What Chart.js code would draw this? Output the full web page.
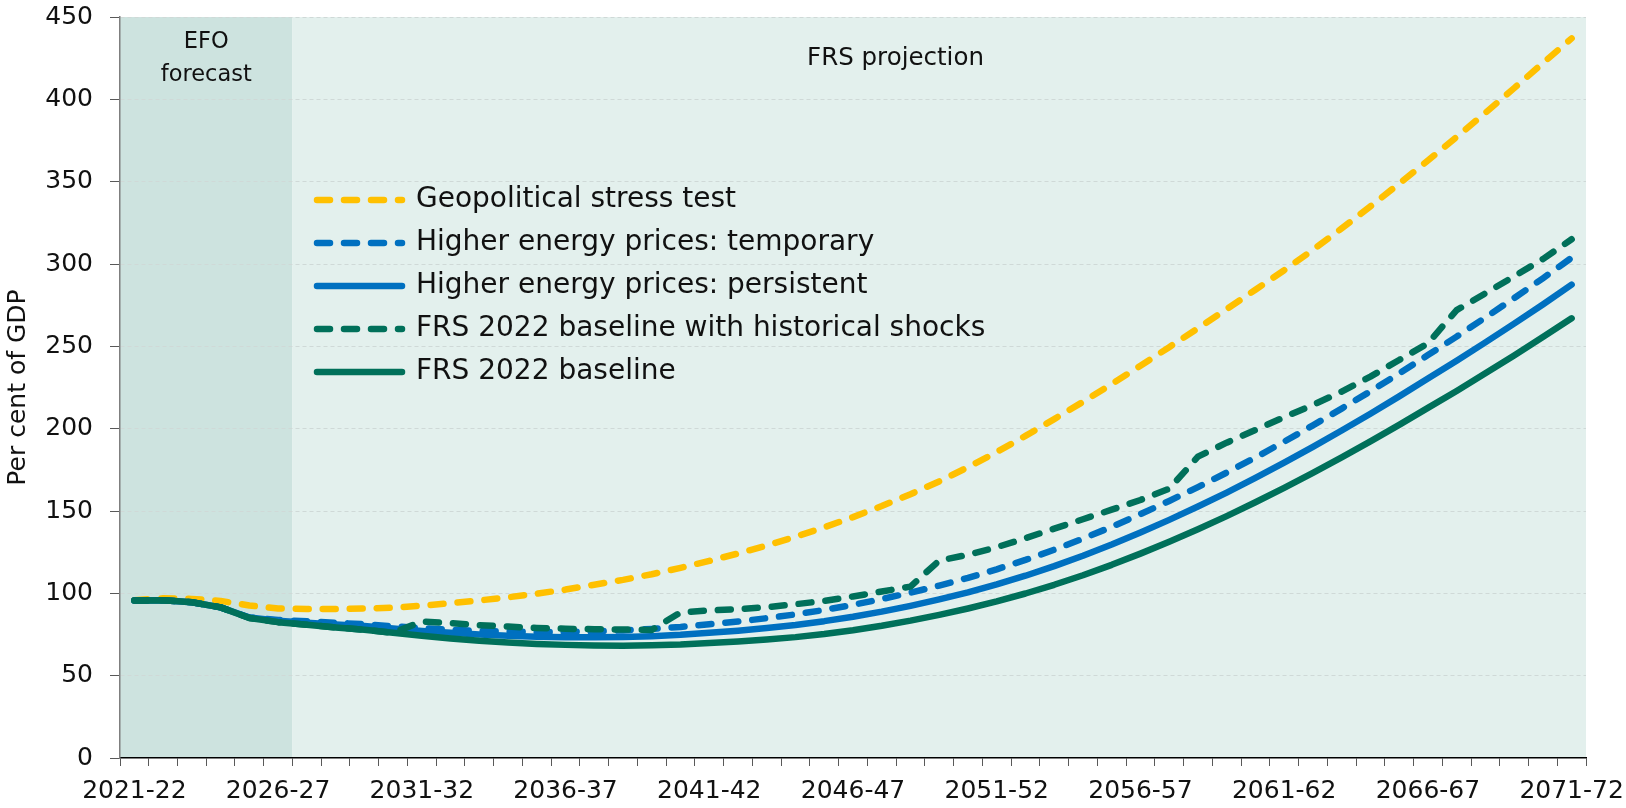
<!DOCTYPE html>
<html>
<head>
<meta charset="utf-8">
<script src="https://cdn.jsdelivr.net/npm/chart.js@4.4.1/dist/chart.umd.min.js"></script>
<style>
html,body{margin:0;padding:0;background:#ffffff;}
canvas{display:block;}
</style>
</head>
<body>
<canvas id="c" width="1626" height="808"></canvas>
<script>
// ---------------- data ----------------
const years = [
  '2021-22','2022-23','2023-24','2024-25','2025-26','2026-27','2027-28','2028-29','2029-30','2030-31',
  '2031-32','2032-33','2033-34','2034-35','2035-36','2036-37','2037-38','2038-39','2039-40','2040-41',
  '2041-42','2042-43','2043-44','2044-45','2045-46','2046-47','2047-48','2048-49','2049-50','2050-51',
  '2051-52','2052-53','2053-54','2054-55','2055-56','2056-57','2057-58','2058-59','2059-60','2060-61',
  '2061-62','2062-63','2063-64','2064-65','2065-66','2066-67','2067-68','2068-69','2069-70','2070-71',
  '2071-72'
];

const geopolitical = [
  95.8, 97.0, 96.6, 95.4, 92.6, 90.8, 90.5, 90.5, 90.8, 91.3,
  92.5, 94.0, 95.7, 97.6, 99.8, 102.3, 105.2, 108.2, 111.6, 115.5,
  119.7, 124.2, 129.1, 134.4, 140.1, 146.3, 153.0, 160.2, 168.0, 176.6,
  185.8, 195.6, 205.8, 216.3, 227.1, 238.2, 249.5, 261.0, 272.6, 284.4,
  296.2, 308.6, 321.6, 335.0, 348.8, 362.8, 377.2, 391.8, 406.8, 422.0,
  437.0
];

const energyTemporary = [
  95.6, 95.8, 94.6, 91.5, 85.3, 83.8, 83.0, 82.1, 81.3, 80.0,
  78.8, 77.9, 77.2, 76.8, 76.5, 76.6, 76.9, 77.5, 78.4, 79.6,
  81.2, 82.9, 84.9, 87.2, 89.9, 93.0, 96.5, 100.4, 104.7, 109.4,
  114.6, 120.3, 126.5, 133.2, 140.4, 148.1, 156.1, 164.5, 173.3, 182.5,
  192.1, 202.0, 212.2, 222.7, 233.5, 244.7, 255.9, 267.5, 279.3, 291.3,
  303.8
];

const energyPersistent = [
  95.6, 95.8, 94.6, 91.5, 85.3, 83.3, 82.2, 81.1, 80.1, 78.6,
  77.2, 76.0, 75.0, 74.3, 73.7, 73.4, 73.3, 73.5, 74.0, 74.8,
  76.0, 77.3, 78.9, 80.8, 83.1, 85.8, 88.9, 92.4, 96.3, 100.6,
  105.4, 110.7, 116.5, 122.8, 129.6, 136.9, 144.6, 152.7, 161.2, 170.1,
  179.4, 189.0, 198.9, 209.1, 219.6, 230.4, 241.2, 252.4, 263.8, 275.4,
  287.5
];

const historicalShocks = [
  95.6, 95.8, 94.6, 91.5, 85.0, 82.5, 80.9, 79.3, 77.9, 76.0,
  82.9, 81.9, 80.7, 79.8, 79.0, 78.5, 78.2, 78.0, 77.8, 88.4,
  89.6, 90.4, 91.6, 93.4, 95.4, 98.1, 101.1, 104.1, 119.9, 123.4,
  128.0, 133.5, 139.3, 145.0, 150.8, 156.7, 163.5, 183.0, 191.5, 199.2,
  207.0, 214.4, 222.5, 231.6, 241.7, 251.8, 272.0, 282.2, 292.5, 303.0,
  315.0
];

const baseline = [
  95.6, 95.8, 94.6, 91.5, 85.0, 82.5, 80.9, 79.3, 77.9, 76.0,
  74.2, 72.6, 71.2, 70.2, 69.3, 68.7, 68.3, 68.2, 68.4, 68.9,
  69.8, 70.7, 71.9, 73.4, 75.3, 77.6, 80.3, 83.4, 86.9, 90.8,
  95.1, 99.9, 105.2, 111.0, 117.3, 124.1, 131.3, 138.9, 146.9, 155.3,
  164.1, 173.2, 182.6, 192.3, 202.3, 212.6, 222.9, 233.6, 244.5, 255.6,
  267.0
];

const yTicks = [0, 50, 100, 150, 200, 250, 300, 350, 400, 450];
const efoLastYear = '2026-27';

// ---------------- styles ----------------
const YELLOW = '#FFC000';
const BLUE = '#0070C0';
const GREEN = '#00705A';
const DASH = [13, 14];
const LW = 6.5;
const FONT = "'DejaVu Sans', sans-serif";
Chart.defaults.font.family = FONT;
Chart.defaults.color = '#111111';

const regionsPlugin = {
  id: 'regions',
  beforeDraw(chart) {
    const {ctx, chartArea: a, scales: {x}} = chart;
    const idx = years.indexOf(efoLastYear);
    const split = (x.getPixelForValue(idx) + x.getPixelForValue(idx + 1)) / 2;
    ctx.save();
    ctx.fillStyle = '#cde3df';
    ctx.fillRect(a.left, a.top, split - a.left, a.bottom - a.top);
    ctx.fillStyle = '#e3f0ed';
    ctx.fillRect(split, a.top, a.right - split, a.bottom - a.top);
    ctx.restore();
  },
  beforeDatasetsDraw(chart) {
    const {ctx, chartArea: a, scales: {x}} = chart;
    const idx = years.indexOf(efoLastYear);
    const split = (x.getPixelForValue(idx) + x.getPixelForValue(idx + 1)) / 2;
    ctx.save();
    ctx.fillStyle = '#111111';
    ctx.textAlign = 'center';
    ctx.textBaseline = 'middle';
    ctx.font = "22.5px " + FONT;
    const cx = (a.left + split) / 2;
    ctx.fillText('EFO', cx, a.top + 25);
    ctx.fillText('forecast', cx, a.top + 58);
    ctx.font = "24.5px " + FONT;
    ctx.fillText('FRS projection', a.left + 0.529 * (a.right - a.left), a.top + 42);
    ctx.restore();
  }
};

const legendPosPlugin = {
  id: 'legendPos',
  afterLayout(chart) {
    const lg = chart.legend;
    if (!lg) return;
    const w = lg.width, h = lg.height;
    lg.left = chart.chartArea.left + 182;
    lg.top = chart.chartArea.top + 154;
    lg.right = lg.left + w;
    lg.bottom = lg.top + h;
  }
};

new Chart(document.getElementById('c'), {
  type: 'line',
  data: {
    labels: years,
    datasets: [
      { label: 'FRS 2022 baseline', data: baseline, borderColor: GREEN, backgroundColor: GREEN, borderWidth: LW },
      { label: 'FRS 2022 baseline with historical shocks', data: historicalShocks, borderColor: GREEN, backgroundColor: GREEN, borderWidth: LW, borderDash: DASH },
      { label: 'Higher energy prices: persistent', data: energyPersistent, borderColor: BLUE, backgroundColor: BLUE, borderWidth: LW },
      { label: 'Higher energy prices: temporary', data: energyTemporary, borderColor: BLUE, backgroundColor: BLUE, borderWidth: LW, borderDash: DASH },
      { label: 'Geopolitical stress test', data: geopolitical, borderColor: YELLOW, backgroundColor: YELLOW, borderWidth: LW, borderDash: DASH }
    ]
  },
  options: {
    responsive: false,
    animation: false,
    devicePixelRatio: 1,
    layout: { padding: { left: 0, top: 17, right: 40, bottom: 0 } },
    elements: {
      point: { radius: 0, hoverRadius: 0 },
      line: { tension: 0, borderCapStyle: 'round', borderJoinStyle: 'round', fill: false }
    },
    plugins: {
      tooltip: { enabled: false },
      legend: {
        position: 'chartArea',
        align: 'start',
        labels: {
          usePointStyle: true,
          pointStyle: 'line',
          pointStyleWidth: 85,
          boxHeight: 28,
          padding: 15,
          color: '#111111',
          font: { size: 28 },
          generateLabels: (chart) => chart.data.datasets.map((ds, i) => ({
            text: ds.label,
            fillStyle: ds.borderColor,
            strokeStyle: ds.borderColor,
            lineWidth: ds.borderWidth,
            lineDash: ds.borderDash || [],
            lineCap: 'round',
            lineJoin: 'round',
            pointStyle: 'line',
            rotation: 0,
            hidden: false,
            fontColor: '#111111',
            datasetIndex: i
          })).reverse()
        }
      }
    },
    scales: {
      x: {
        type: 'category',
        offset: true,
        grid: { offset: true, drawOnChartArea: false, drawTicks: true, tickLength: 8, color: '#595959', tickColor: '#595959', lineWidth: 1 },
        border: { display: true, color: '#000000', width: 1.5 },
        ticks: {
          autoSkip: false, maxRotation: 0, minRotation: 0, padding: 10, color: '#111111',
          font: { size: 25 },
          callback: (v, i) => (i % 5 === 0 ? years[i] : '')
        },
        afterFit: (s) => { s.height = 50; s.paddingLeft = 0; s.paddingRight = 0; }
      },
      y: {
        min: 0, max: 450,
        afterBuildTicks: (s) => { s.ticks = yTicks.map(v => ({ value: v })); },
        ticks: { padding: 17, color: '#111111', font: { size: 25 } },
        grid: {
          color: (c) => (c.tick && c.tick.value === 0 ? 'rgba(0,0,0,0)' : '#cfd9d7'),
          lineWidth: 1, drawTicks: true, tickLength: 10, tickColor: '#595959', tickBorderDash: [], tickWidth: 1
        },
        border: { display: true, color: '#7f7f7f', width: 1.5, dash: [4, 3] },
        title: { display: true, text: 'Per cent of GDP', font: { size: 25 }, color: '#111111', padding: { top: 3, bottom: 0 } },
        afterFit: (s) => { s.width = 120; s.paddingTop = 0; s.paddingBottom = 0; }
      }
    }
  },
  plugins: [regionsPlugin, legendPosPlugin]
});
</script>
</body>
</html>
